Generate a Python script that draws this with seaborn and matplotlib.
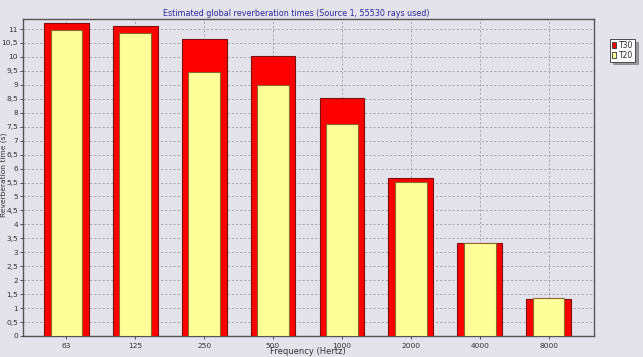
import matplotlib
matplotlib.use("Agg")
import matplotlib.pyplot as plt
import seaborn as sns
import pandas as pd
from matplotlib.ticker import MultipleLocator, FuncFormatter
from matplotlib.patches import Patch

freqs = ["63", "125", "250", "500", "1000", "2000", "4000", "8000"]
t30 = [11.23, 11.12, 10.65, 10.05, 8.52, 5.67, 3.34, 1.32]
t20 = [10.97, 10.87, 9.47, 9.00, 7.61, 5.53, 3.33, 1.35]

title = "Estimated global reverberation times (Source 1, 55530 rays used)"
xlabel = "Frequency (Hertz)"
ylabel = "Reverberation time (s)"

sns.set_theme(style="white")
plt.rcParams['font.family'] = ['DejaVu Sans']

bg = "#E4E2EA"
fig = plt.figure(figsize=(6.43, 3.57), dpi=100, facecolor=bg)
ax = fig.add_axes([23/643, 21/357, (594-23)/643, (336-19)/357])
ax.set_facecolor(bg)

df = pd.DataFrame({"freq": freqs, "T30": t30, "T20": t20})

sns.barplot(data=df, x="freq", y="T30", color="#FF0000", saturation=1,
            width=0.65, edgecolor="#7a1010", linewidth=0.8, ax=ax, zorder=3)
sns.barplot(data=df, x="freq", y="T20", color="#FFFF99", saturation=1,
            width=0.46, edgecolor="#8a6a30", linewidth=0.8, ax=ax, zorder=4)

ax.set_xlim(-0.63, 7.66)
ax.set_ylim(0, 11.36)
ax.yaxis.set_major_locator(MultipleLocator(0.5))
ax.yaxis.set_major_formatter(FuncFormatter(lambda v, p: (f"{v:g}").replace(".", ",")))

ax.grid(True, which="major", axis="both", color="#9a9a9a", linestyle=(0, (2.5, 2.5)),
        linewidth=0.6, zorder=0)
ax.set_axisbelow(True)

for s in ax.spines.values():
    s.set_color("#555555")
    s.set_linewidth(1.0)

ax.tick_params(axis="both", labelsize=5.4, colors="#333333", length=2.5, width=0.6,
               direction="out", pad=1)
ax.tick_params(axis="y", left=True)
ax.tick_params(axis="x", bottom=True, pad=2.5)

ax.set_xlabel("")
ax.set_ylabel("")
fig.text(308/643, 1 - 352/357, xlabel, ha="center", va="center", fontsize=6,
         color="#333333")
fig.text(3.5/643, 1 - 175/357, ylabel, ha="center", va="center", fontsize=5.4,
         color="#333333", rotation=90)

fig.text(296/643, 1 - 13/357, title, ha="center", va="center", fontsize=5.8,
         color="#2a2a9a")

handles = [Patch(facecolor="#FF0000", edgecolor="#333333", linewidth=0.6, label="T30"),
           Patch(facecolor="#FFFF99", edgecolor="#333333", linewidth=0.6, label="T20")]
leg = fig.legend(handles=handles, loc="upper left", bbox_to_anchor=(610/643, 1 - 39/357),
                 fontsize=5.5, frameon=True, fancybox=False, handlelength=0.6,
                 handleheight=0.9, handletextpad=0.3, borderpad=0.25,
                 labelspacing=0.1, borderaxespad=0, shadow=True)
leg.get_frame().set_edgecolor("#333333")
leg.get_frame().set_facecolor("white")
leg.get_frame().set_linewidth(0.6)

fig.savefig("out.png", dpi=100, facecolor=bg)
